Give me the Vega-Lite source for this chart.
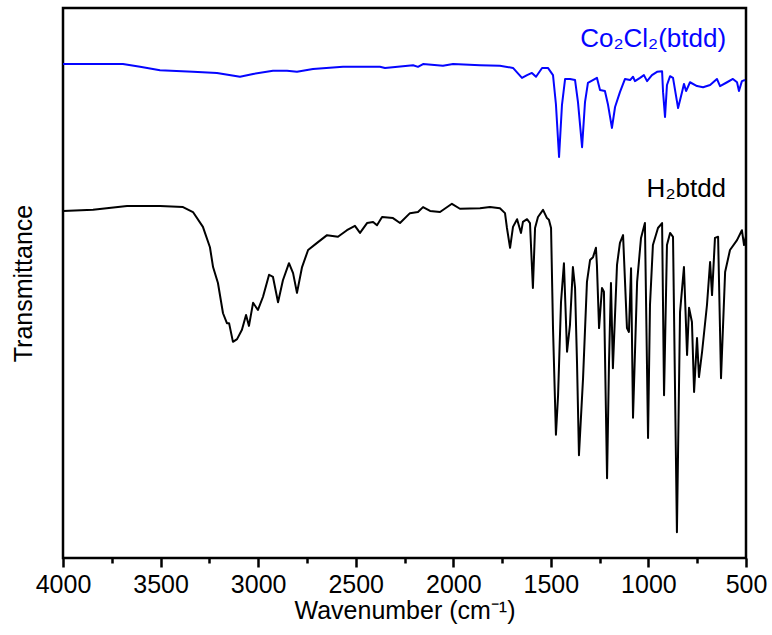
{
  "$schema": "https://vega.github.io/schema/vega-lite/v6.json",
  "width": 683,
  "height": 550,
  "autosize": {"type": "none"},
  "padding": {"left": 63, "top": 8, "right": 26, "bottom": 77},
  "background": "white",
  "config": {
    "font": "Liberation Sans",
    "view": {"stroke": "black", "strokeWidth": 2.5}
  },
  "datasets": {
    "spectra": [
      {"s":"Co","w":4000,"T":89.8},{"s":"Co","w":3759,"T":89.8},{"s":"Co","w":3693,"T":89.8},{"s":"Co","w":3605,"T":89.3},{"s":"Co","w":3503,"T":88.7},{"s":"Co","w":3334,"T":88.4},{"s":"Co","w":3211,"T":88.2},{"s":"Co","w":3093,"T":87.5},{"s":"Co","w":3026,"T":88.0},{"s":"Co","w":2924,"T":88.6},{"s":"Co","w":2852,"T":88.6},{"s":"Co","w":2801,"T":88.4},{"s":"Co","w":2719,"T":88.9},{"s":"Co","w":2565,"T":89.3},{"s":"Co","w":2376,"T":89.3},{"s":"Co","w":2350,"T":89.1},{"s":"Co","w":2206,"T":89.6},{"s":"Co","w":2181,"T":89.3},{"s":"Co","w":2155,"T":89.8},{"s":"Co","w":2053,"T":89.5},{"s":"Co","w":2001,"T":89.8},{"s":"Co","w":1863,"T":89.6},{"s":"Co","w":1761,"T":89.5},{"s":"Co","w":1694,"T":89.1},{"s":"Co","w":1648,"T":87.3},{"s":"Co","w":1622,"T":87.8},{"s":"Co","w":1597,"T":88.2},{"s":"Co","w":1576,"T":87.5},{"s":"Co","w":1545,"T":89.1},{"s":"Co","w":1515,"T":89.1},{"s":"Co","w":1489,"T":87.8},{"s":"Co","w":1474,"T":82.5},{"s":"Co","w":1458,"T":72.9},{"s":"Co","w":1443,"T":82.4},{"s":"Co","w":1427,"T":87.1},{"s":"Co","w":1402,"T":87.1},{"s":"Co","w":1376,"T":86.9},{"s":"Co","w":1361,"T":82.9},{"s":"Co","w":1340,"T":74.7},{"s":"Co","w":1325,"T":82.9},{"s":"Co","w":1310,"T":86.4},{"s":"Co","w":1264,"T":87.3},{"s":"Co","w":1248,"T":85.1},{"s":"Co","w":1223,"T":84.9},{"s":"Co","w":1207,"T":82.4},{"s":"Co","w":1187,"T":78.2},{"s":"Co","w":1171,"T":82.0},{"s":"Co","w":1146,"T":84.7},{"s":"Co","w":1120,"T":87.1},{"s":"Co","w":1094,"T":86.9},{"s":"Co","w":1079,"T":87.5},{"s":"Co","w":1069,"T":86.7},{"s":"Co","w":1043,"T":87.3},{"s":"Co","w":1023,"T":87.8},{"s":"Co","w":1007,"T":86.7},{"s":"Co","w":982,"T":87.8},{"s":"Co","w":956,"T":88.4},{"s":"Co","w":930,"T":88.5},{"s":"Co","w":925,"T":84.7},{"s":"Co","w":915,"T":80.2},{"s":"Co","w":905,"T":86.0},{"s":"Co","w":889,"T":87.6},{"s":"Co","w":874,"T":87.3},{"s":"Co","w":848,"T":81.8},{"s":"Co","w":828,"T":84.7},{"s":"Co","w":818,"T":86.2},{"s":"Co","w":807,"T":84.9},{"s":"Co","w":787,"T":86.5},{"s":"Co","w":751,"T":85.8},{"s":"Co","w":720,"T":85.6},{"s":"Co","w":684,"T":86.0},{"s":"Co","w":649,"T":87.1},{"s":"Co","w":633,"T":85.8},{"s":"Co","w":597,"T":86.5},{"s":"Co","w":567,"T":87.1},{"s":"Co","w":546,"T":86.5},{"s":"Co","w":536,"T":84.9},{"s":"Co","w":521,"T":86.7},{"s":"Co","w":505,"T":86.9},
      {"s":"H","w":4000,"T":63.1},{"s":"H","w":3846,"T":63.3},{"s":"H","w":3672,"T":64.0},{"s":"H","w":3503,"T":64.0},{"s":"H","w":3385,"T":63.8},{"s":"H","w":3334,"T":62.9},{"s":"H","w":3283,"T":60.2},{"s":"H","w":3247,"T":56.5},{"s":"H","w":3231,"T":52.9},{"s":"H","w":3206,"T":50.0},{"s":"H","w":3180,"T":44.5},{"s":"H","w":3160,"T":42.7},{"s":"H","w":3149,"T":42.7},{"s":"H","w":3129,"T":39.3},{"s":"H","w":3108,"T":39.8},{"s":"H","w":3083,"T":41.5},{"s":"H","w":3062,"T":44.2},{"s":"H","w":3047,"T":42.2},{"s":"H","w":3026,"T":46.4},{"s":"H","w":3001,"T":45.1},{"s":"H","w":2975,"T":47.5},{"s":"H","w":2944,"T":51.5},{"s":"H","w":2924,"T":51.1},{"s":"H","w":2898,"T":46.5},{"s":"H","w":2873,"T":50.5},{"s":"H","w":2842,"T":53.6},{"s":"H","w":2821,"T":51.8},{"s":"H","w":2801,"T":48.2},{"s":"H","w":2775,"T":52.9},{"s":"H","w":2744,"T":56.0},{"s":"H","w":2698,"T":57.3},{"s":"H","w":2647,"T":58.7},{"s":"H","w":2591,"T":58.4},{"s":"H","w":2545,"T":59.6},{"s":"H","w":2504,"T":60.4},{"s":"H","w":2478,"T":59.1},{"s":"H","w":2442,"T":60.9},{"s":"H","w":2411,"T":61.1},{"s":"H","w":2391,"T":60.5},{"s":"H","w":2365,"T":62.0},{"s":"H","w":2309,"T":61.8},{"s":"H","w":2273,"T":60.9},{"s":"H","w":2222,"T":62.7},{"s":"H","w":2181,"T":62.9},{"s":"H","w":2155,"T":63.8},{"s":"H","w":2119,"T":63.1},{"s":"H","w":2068,"T":62.9},{"s":"H","w":2007,"T":64.4},{"s":"H","w":1966,"T":63.5},{"s":"H","w":1863,"T":63.6},{"s":"H","w":1812,"T":63.8},{"s":"H","w":1761,"T":63.6},{"s":"H","w":1735,"T":62.7},{"s":"H","w":1725,"T":60.0},{"s":"H","w":1709,"T":56.4},{"s":"H","w":1694,"T":60.2},{"s":"H","w":1673,"T":61.6},{"s":"H","w":1653,"T":59.1},{"s":"H","w":1643,"T":61.1},{"s":"H","w":1622,"T":61.6},{"s":"H","w":1607,"T":60.9},{"s":"H","w":1592,"T":49.1},{"s":"H","w":1581,"T":60.0},{"s":"H","w":1566,"T":62.0},{"s":"H","w":1540,"T":63.3},{"s":"H","w":1520,"T":61.8},{"s":"H","w":1510,"T":61.5},{"s":"H","w":1499,"T":60.0},{"s":"H","w":1489,"T":41.8},{"s":"H","w":1474,"T":22.4},{"s":"H","w":1463,"T":29.6},{"s":"H","w":1448,"T":46.5},{"s":"H","w":1433,"T":53.6},{"s":"H","w":1417,"T":37.5},{"s":"H","w":1402,"T":42.4},{"s":"H","w":1387,"T":52.9},{"s":"H","w":1376,"T":49.1},{"s":"H","w":1366,"T":35.6},{"s":"H","w":1356,"T":18.7},{"s":"H","w":1335,"T":32.7},{"s":"H","w":1315,"T":50.2},{"s":"H","w":1299,"T":54.2},{"s":"H","w":1284,"T":54.7},{"s":"H","w":1269,"T":56.4},{"s":"H","w":1264,"T":53.3},{"s":"H","w":1253,"T":41.8},{"s":"H","w":1238,"T":49.1},{"s":"H","w":1228,"T":48.4},{"s":"H","w":1212,"T":14.5},{"s":"H","w":1202,"T":35.6},{"s":"H","w":1192,"T":50.0},{"s":"H","w":1182,"T":34.5},{"s":"H","w":1161,"T":53.3},{"s":"H","w":1146,"T":57.3},{"s":"H","w":1130,"T":58.7},{"s":"H","w":1110,"T":41.8},{"s":"H","w":1100,"T":41.1},{"s":"H","w":1089,"T":52.7},{"s":"H","w":1079,"T":25.5},{"s":"H","w":1058,"T":50.2},{"s":"H","w":1038,"T":58.2},{"s":"H","w":1018,"T":60.9},{"s":"H","w":1002,"T":21.8},{"s":"H","w":992,"T":46.0},{"s":"H","w":977,"T":56.9},{"s":"H","w":951,"T":60.0},{"s":"H","w":930,"T":60.9},{"s":"H","w":920,"T":29.6},{"s":"H","w":905,"T":56.9},{"s":"H","w":889,"T":59.1},{"s":"H","w":874,"T":58.4},{"s":"H","w":854,"T":4.7},{"s":"H","w":838,"T":44.7},{"s":"H","w":818,"T":52.9},{"s":"H","w":802,"T":36.9},{"s":"H","w":792,"T":45.5},{"s":"H","w":777,"T":42.9},{"s":"H","w":766,"T":30.2},{"s":"H","w":751,"T":40.0},{"s":"H","w":741,"T":32.9},{"s":"H","w":725,"T":37.5},{"s":"H","w":700,"T":46.0},{"s":"H","w":684,"T":53.8},{"s":"H","w":674,"T":47.8},{"s":"H","w":659,"T":58.2},{"s":"H","w":643,"T":58.4},{"s":"H","w":628,"T":32.7},{"s":"H","w":607,"T":52.0},{"s":"H","w":582,"T":56.0},{"s":"H","w":546,"T":57.8},{"s":"H","w":521,"T":59.6},{"s":"H","w":510,"T":56.9},{"s":"H","w":500,"T":58.5}
    ],
    "labels": [
      {"s":"Co","w":602,"T":93.0,"name":"Co₂Cl₂(btdd)"},
      {"s":"H","w":602,"T":65.7,"name":"H₂btdd"}
    ]
  },
  "layer": [
    {
      "data": {"name": "spectra"},
      "mark": {"type": "line", "strokeWidth": 2, "interpolate": "linear", "strokeJoin": "round", "clip": true},
      "encoding": {
        "x": {
          "field": "w", "type": "quantitative",
          "scale": {"domain": [500, 4000], "reverse": true, "nice": false, "zero": false},
          "axis": {
            "orient": "bottom",
            "values": [4000,3750,3500,3250,3000,2750,2500,2250,2000,1750,1500,1250,1000,750,500],
            "format": "d",
            "labelExpr": "datum.value % 500 === 0 ? datum.label : ''",
            "tickSize": {"condition": {"test": "datum.value % 500 !== 0", "value": 5}, "value": 9},
            "tickWidth": 2.5,
            "tickColor": "black",
            "domain": false,
            "grid": false,
            "labelFontSize": 25,
            "labelColor": "black",
            "labelPadding": 5,
            "labelFlush": false,
            "labelOverlap": false,
            "title": "Wavenumber (cm⁻¹)",
            "titleFontSize": 25,
            "titleFontWeight": "normal",
            "titleColor": "black",
            "titlePadding": 1
          }
        },
        "y": {
          "field": "T", "type": "quantitative",
          "scale": {"domain": [0, 100], "nice": false, "zero": false},
          "axis": {
            "labels": false, "ticks": false, "domain": false, "grid": false,
            "title": "Transmittance",
            "titleFontSize": 25,
            "titleFontWeight": "normal",
            "titleColor": "black",
            "titlePadding": 27
          }
        },
        "color": {
          "field": "s", "type": "nominal",
          "scale": {"domain": ["Co", "H"], "range": ["#0505ff", "#000000"]},
          "legend": null
        }
      }
    },
    {
      "data": {"name": "labels"},
      "mark": {"type": "text", "align": "right", "baseline": "alphabetic", "fontSize": 26},
      "encoding": {
        "x": {"field": "w", "type": "quantitative"},
        "y": {"field": "T", "type": "quantitative"},
        "text": {"field": "name"},
        "color": {"field": "s", "type": "nominal", "legend": null}
      }
    }
  ]
}
